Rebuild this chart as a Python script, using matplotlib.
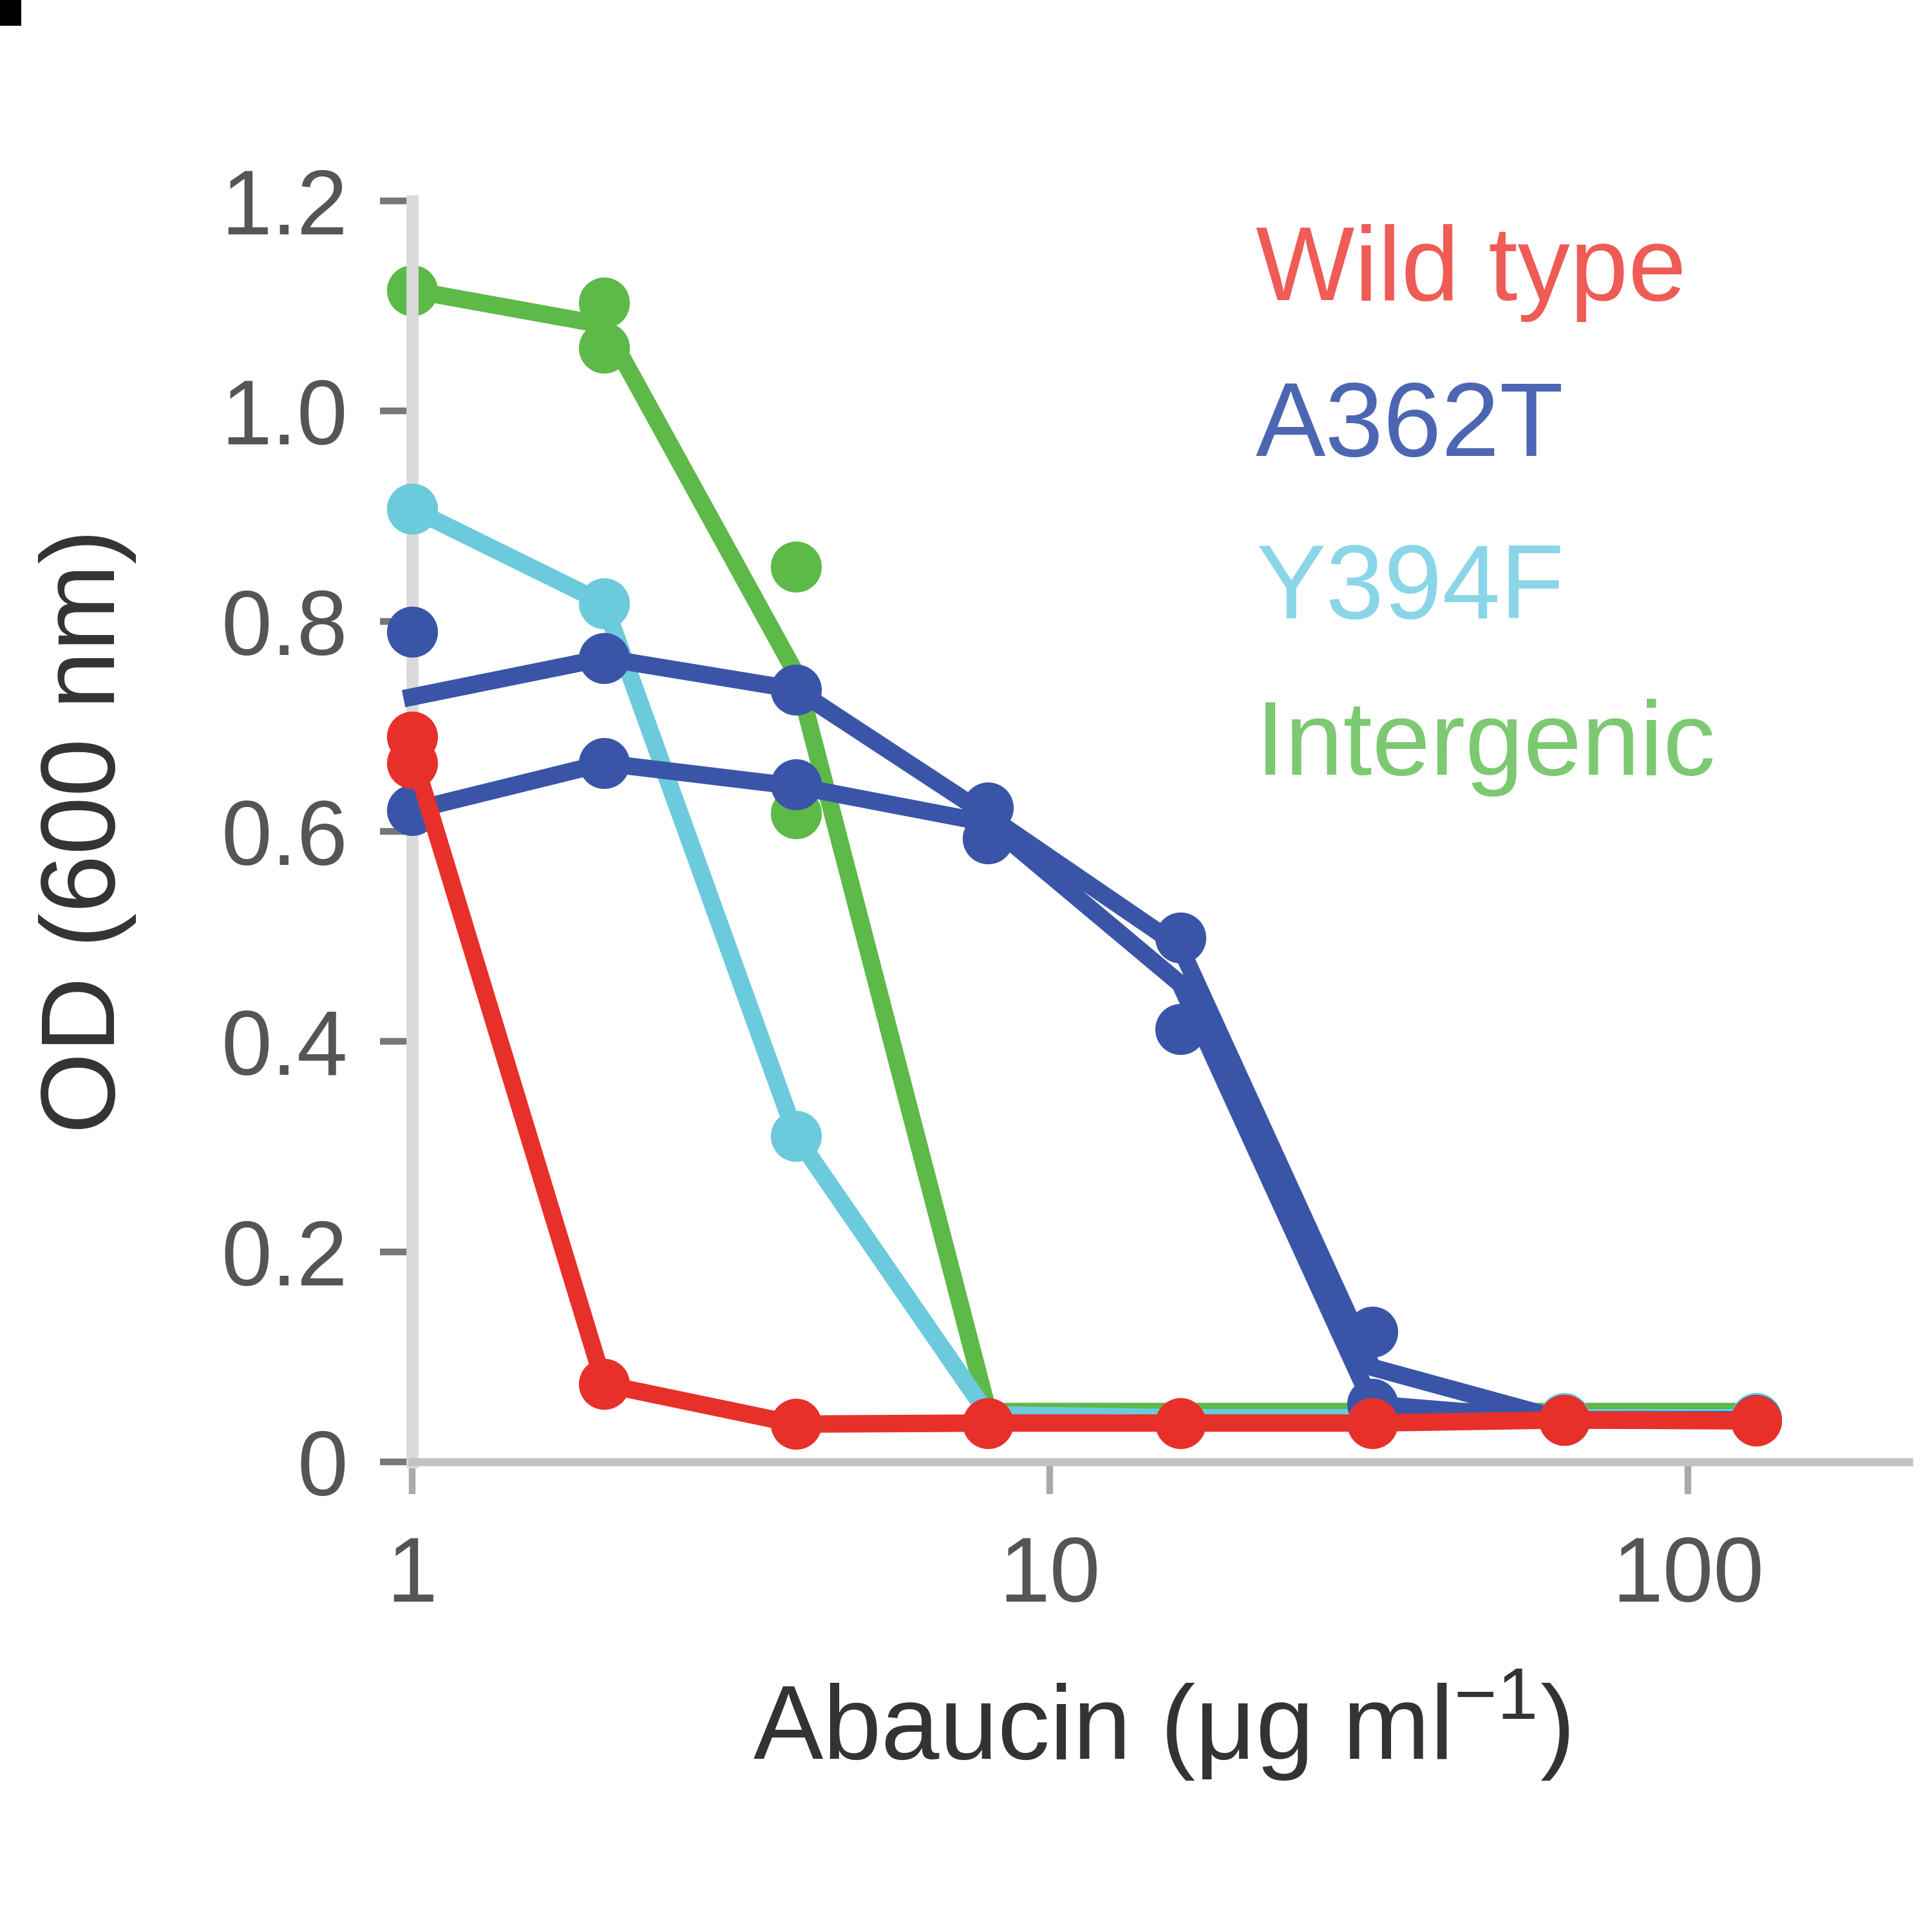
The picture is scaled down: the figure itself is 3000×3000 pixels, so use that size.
import matplotlib
matplotlib.use('Agg')
import matplotlib.pyplot as plt
from matplotlib.patches import Rectangle

plt.rcParams['font.family'] = ['Liberation Sans', 'DejaVu Sans']
plt.rcParams['mathtext.fontset'] = 'custom'
plt.rcParams['mathtext.rm'] = 'Liberation Sans'

# abaucin concentrations (ug/ml)
conc = [1, 2, 4, 8, 16, 32, 64, 128]

# mean lines
wt_line = [0.675, 0.074, 0.036, 0.037, 0.037, 0.037, 0.040, 0.039]
a362t_line_a = [0.728, 0.765, 0.735, 0.615, 0.49, 0.09, 0.04, 0.04]
a362t_line_b = [0.62, 0.665, 0.643, 0.608, 0.455, 0.055, 0.04, 0.04]
y394f_line = [0.907, 0.817, 0.31, 0.045, 0.042, 0.042, 0.042, 0.042]
intergenic_line = [1.115, 1.082, 0.75, 0.048, 0.048, 0.048, 0.048, 0.048]

# replicate dots
wt_dots_x = [1, 1, 2, 4, 8, 16, 32, 64, 128]
wt_dots_y = [0.69, 0.665, 0.074, 0.036, 0.037, 0.037, 0.037, 0.040, 0.039]
a362t_dots_x = [1, 1, 2, 2, 4, 4, 8, 8, 16, 16, 32, 32, 64, 128]
a362t_dots_y = [0.79, 0.62, 0.765, 0.665, 0.735, 0.645, 0.623, 0.593, 0.499, 0.412, 0.124, 0.055, 0.04, 0.04]
y394f_dots_x = [1, 2, 4, 64, 128]
y394f_dots_y = [0.907, 0.817, 0.31, 0.042, 0.042]
intergenic_dots_x = [1, 2, 2, 4, 4]
intergenic_dots_y = [1.115, 1.103, 1.06, 0.852, 0.617]

yticks = [0, 0.2, 0.4, 0.6, 0.8, 1.0, 1.2]
ytick_labels = ['0', '0.2', '0.4', '0.6', '0.8', '1.0', '1.2']
xticks = [1, 10, 100]
xtick_labels = ['1', '10', '100']

legend_names = ['Wild type', 'A362T', 'Y394F', 'Intergenic']

red = '#e8302a'
blue = '#3a55a8'
cyan = '#6ccadd'
green = '#5db948'
text_cols = ['#ef5b55', '#4d66b3', '#8ad6e8', '#7cc972']

lw = 6.5
ms = 19

fig = plt.figure(figsize=(10, 10), dpi=300)
ax = fig.add_axes([0.2133, 0.2433, 0.7747, 0.6527])

# green and cyan first, blue, red on top
ax.plot(conc, intergenic_line, '-', color=green, lw=lw, zorder=2, clip_on=False)
ax.plot(intergenic_dots_x, intergenic_dots_y, 'o', color=green, ms=ms, mew=0, zorder=2, clip_on=False)
ax.plot(conc, y394f_line, '-', color=cyan, lw=lw, zorder=3, clip_on=False)
ax.plot(y394f_dots_x, y394f_dots_y, 'o', color=cyan, ms=ms, mew=0, zorder=3, clip_on=False)
ax.plot(conc, a362t_line_a, '-', color=blue, lw=lw, zorder=4, clip_on=False)
ax.plot(conc, a362t_line_b, '-', color=blue, lw=lw, zorder=4, clip_on=False)
ax.plot(a362t_dots_x, a362t_dots_y, 'o', color=blue, ms=ms, mew=0, zorder=4, clip_on=False)
ax.plot(conc, wt_line, '-', color=red, lw=lw, zorder=5, clip_on=False)
ax.plot(wt_dots_x, wt_dots_y, 'o', color=red, ms=ms, mew=0, zorder=5, clip_on=False)

ax.set_xscale('log')
ax.set_xlim(1, 222)
ax.set_ylim(0, 1.2)

ax.set_xticks(xticks)
ax.set_xticklabels(xtick_labels)
ax.xaxis.set_minor_locator(matplotlib.ticker.NullLocator())
ax.set_yticks(yticks)
ax.set_yticklabels(ytick_labels)

for s in ['top', 'right']:
    ax.spines[s].set_visible(False)
ax.spines['left'].set_color('#dadada')
ax.spines['left'].set_linewidth(4.5)
ax.spines['bottom'].set_color('#c2c2c2')
ax.spines['bottom'].set_linewidth(3)

ax.tick_params(axis='y', length=12, width=2.5, color='#777777', pad=12,
               labelsize=34, labelcolor='#555555')
ax.tick_params(axis='x', length=12, width=2.5, color='#aaaaaa', pad=15,
               labelsize=34, labelcolor='#555555')

fig.text(0.0453, 0.570, 'OD (600 nm)', rotation=90, ha='center', va='center',
         fontsize=39, color='#333333')
fig.text(0.601, 0.0893, r'Abaucin (μg ml$^{-1}$)', ha='center', va='baseline',
         fontsize=39, color='#333333')

legend_y = [0.8447, 0.764, 0.68, 0.599]
for name, col, yy in zip(legend_names, text_cols, legend_y):
    fig.text(0.65, yy, name, ha='left', va='baseline', fontsize=39, color=col)

# cropped panel letter in the corner
fig.patches.append(Rectangle((0, 0.9867), 0.011, 0.0133, transform=fig.transFigure,
                             facecolor='black', edgecolor='none'))

fig.savefig('out.png', dpi=300)
